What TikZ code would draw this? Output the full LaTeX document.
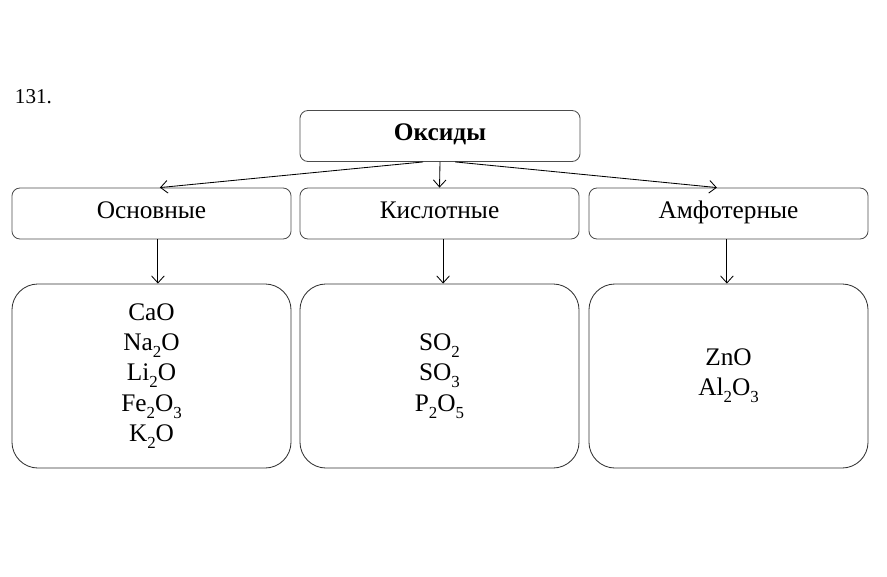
\documentclass[tikz,border=0pt]{standalone}
\usepackage{fontspec}
\setmainfont{Liberation Serif}
\usetikzlibrary{arrows.meta}
\newcommand{\chemsub}[1]{\lower5pt\hbox{\fontsize{12}{12}\selectfont #1}}
\begin{document}
\begin{tikzpicture}[
        x=0.025cm, y=-0.025cm,
        kind/.style={draw=black!70, line width=0.6pt, rounded corners=0.2cm,
            minimum width=6.975cm, minimum height=1.275cm, inner sep=0pt,
            text height=12pt, text depth=5pt,
            font=\fontsize{18}{21}\selectfont},
        oxlist/.style={draw=black!80, line width=0.6pt, rounded corners=0.65cm,
            minimum width=6.975cm, minimum height=4.6cm, inner sep=0pt, align=center,
            font=\fontsize{18}{21.5}\selectfont},
        link/.style={line width=0.6pt, -{Straight Barb[length=5pt, width=9pt]}}
    ]
        \useasboundingbox (0,0) rectangle (887,577);

        % Номер задания
        \node[anchor=west, font=\fontsize{15}{17}\selectfont] (num) at (10,97) {131.};

        % Верхний блок и классы оксидов
        \node[kind, minimum width=7cm, font=\fontsize{18}{21}\selectfont\bfseries] (oxides) at (440,136) {Оксиды};
        \node[kind] (basic) at (151.5,213.5) {Основные};
        \node[kind] (acidic) at (439.5,213.5) {Кислотные};
        \node[kind] (amph) at (728.5,213.5) {Амфотерные};

        % Списки оксидов
        \node[oxlist] (basiclist) at (151.5,376) {CaO\\Na\chemsub{2}O\\Li\chemsub{2}O\\Fe\chemsub{2}O\chemsub{3}\\K\chemsub{2}O};
        \node[oxlist] (acidiclist) at (439.5,376) {SO\chemsub{2}\\SO\chemsub{3}\\P\chemsub{2}O\chemsub{5}};
        \node[oxlist] (amphlist) at (728.5,376) {ZnO\\Al\chemsub{2}O\chemsub{3}};

        % Стрелки от общего понятия
        \draw[link] ([xshift=-0.42cm]oxides.south) -- ([xshift=0.21cm]basic.north);
        \draw[link] (oxides.south) -- (acidic.north);
        \draw[link] ([xshift=0.38cm]oxides.south) -- ([xshift=-0.29cm]amph.north);

        % Стрелки к спискам
        \draw[link] ([xshift=0.16cm]basic.south) -- ([xshift=0.16cm]basiclist.north);
        \draw[link] ([xshift=0.09cm]acidic.south) -- ([xshift=0.09cm]acidiclist.north);
        \draw[link] ([xshift=-0.04cm]amph.south) -- ([xshift=-0.04cm]amphlist.north);
    \end{tikzpicture}
\end{document}
